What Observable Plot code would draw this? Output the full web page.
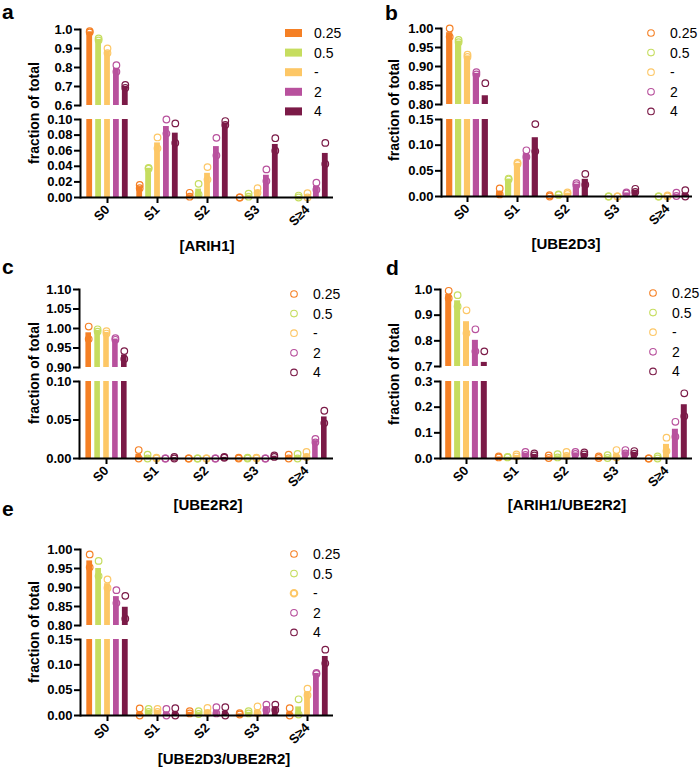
<!DOCTYPE html>
<html>
<head>
<meta charset="utf-8">
<script src="https://cdn.jsdelivr.net/npm/d3@7"></script>
<script src="https://cdn.jsdelivr.net/npm/@observablehq/plot@0.6"></script>
<style>
  html, body { margin: 0; padding: 0; background: #fff; }
  #root { position: relative; width: 700px; height: 770px; overflow: hidden; font-family: "Liberation Sans", Arial, sans-serif; }
  #root svg { position: absolute; }
</style>
</head>
<body>
<div id="root"></div>
<script>
// ---------------- DATA ----------------
const categories = ["S0", "S1", "S2", "S3", "S≥4"];
const conditions = ["0.25", "0.5", "-", "2", "4"];
const colors = ["#F58025", "#C6DD5F", "#FDC766", "#B8519D", "#7B1A47"];

// replicate values: rows = categories, columns = conditions (null = not shown)
const ARIH1_rep1 = [
  [0.991, 0.953, 0.900, 0.812, 0.708],
  [0.016, 0.038, 0.077, 0.100, 0.095],
  [0.006, 0.0175, 0.039, 0.0765, 0.098],
  [0.000, 0.005, 0.012, 0.036, 0.076],
  [null, 0.0025, 0.0055, 0.019, 0.070]
];
const ARIH1_rep2 = [
  [0.985, 0.943, 0.876, 0.778, 0.692],
  [0.012, 0.037, 0.063, 0.082, 0.070],
  [0.001, 0.004, 0.023, 0.054, 0.093],
  [0.000, 0.001, 0.006, 0.021, 0.060],
  [null, 0.000, 0.000, 0.010, 0.043]
];

const UBE2D3_rep1 = [
  [1.000, 0.970, 0.931, 0.885, 0.856],
  [0.0157, 0.033, 0.0635, 0.090, 0.141],
  [0.0026, 0.004, 0.008, 0.022, 0.044],
  [null, 0.000, 0.000, 0.008, 0.015],
  [null, 0.000, 0.002, 0.0075, 0.0125]
];
const UBE2D3_rep2 = [
  [0.978, 0.964, 0.925, 0.879, 0.790],
  [0.004, 0.035, 0.066, 0.077, 0.088],
  [0.000, 0.003, 0.005, 0.026, 0.023],
  [null, 0.000, 0.000, 0.006, 0.009],
  [null, 0.000, 0.000, 0.001, 0.000]
];

const UBE2R2_rep1 = [
  [1.005, 0.998, 0.993, 0.975, 0.942],
  [0.011, 0.005, 0.001, 0.000, 0.002],
  [0.000, 0.000, 0.000, 0.000, 0.002],
  [0.001, 0.001, 0.001, 0.000, 0.004],
  [0.005, 0.006, 0.0085, 0.0255, 0.062]
];
const UBE2R2_rep2 = [
  [0.973, 0.992, 0.987, 0.971, 0.922],
  [0.000, 0.000, 0.000, 0.000, 0.000],
  [0.000, 0.000, 0.000, 0.000, 0.001],
  [0.000, 0.000, 0.000, 0.000, 0.002],
  [0.000, 0.000, 0.002, 0.021, 0.046]
];

const ARIH1_UBE2R2_rep1 = [
  [0.995, 0.978, 0.919, 0.845, 0.759],
  [0.008, 0.006, 0.016, 0.026, 0.020],
  [0.012, 0.017, 0.026, 0.026, 0.024],
  [0.008, 0.013, 0.033, 0.033, 0.029],
  [0.000, 0.008, 0.081, 0.143, 0.254]
];
const ARIH1_UBE2R2_rep2 = [
  [0.966, 0.934, 0.830, 0.759, 0.673],
  [0.004, 0.004, 0.008, 0.014, 0.012],
  [0.002, 0.004, 0.010, 0.018, 0.016],
  [0.002, 0.002, 0.004, 0.020, 0.019],
  [0.000, 0.000, 0.029, 0.085, 0.165]
];

const UBE2D3_UBE2R2_rep1 = [
  [0.987, 0.970, 0.921, 0.893, 0.878],
  [0.014, 0.013, 0.013, 0.013, 0.0145],
  [0.0085, 0.0085, 0.015, 0.0165, 0.0165],
  [0.0045, 0.0085, 0.018, 0.0215, 0.0215],
  [0.0145, 0.032, 0.053, 0.084, 0.130]
];
const UBE2D3_UBE2R2_rep2 = [
  [0.953, 0.930, 0.899, 0.859, 0.818],
  [0.000, 0.007, 0.007, 0.000, 0.000],
  [0.004, 0.003, 0.005, 0.004, 0.000],
  [0.002, 0.004, 0.004, 0.011, 0.011],
  [0.000, 0.002, 0.040, 0.082, 0.103]
];

// axis tick labels
const ticks_a_top = [0.6, 0.7, 0.8, 0.9, 1.0];
const ticks_a_bot = [0.00, 0.02, 0.04, 0.06, 0.08, 0.10];
const ticks_b_top = [0.80, 0.85, 0.90, 0.95, 1.00];
const ticks_b_bot = [0.00, 0.05, 0.10, 0.15];
const ticks_c_top = [0.90, 0.95, 1.00, 1.05, 1.10];
const ticks_c_bot = [0.00, 0.05, 0.10];
const ticks_d_top = [0.7, 0.8, 0.9, 1.0];
const ticks_d_bot = [0.0, 0.1, 0.2, 0.3];
const ticks_e_top = [0.80, 0.85, 0.90, 0.95, 1.00];
const ticks_e_bot = [0.00, 0.05, 0.10, 0.15];

const titles = ["[ARIH1]", "[UBE2D3]", "[UBE2R2]", "[ARIH1/UBE2R2]", "[UBE2D3/UBE2R2]"];
const letters = ["a", "b", "c", "d", "e"];
const yTitle = "fraction of total";

// ---------------- LAYOUT ----------------
const panels = [
  {rep1: ARIH1_rep1, rep2: ARIH1_rep2, top: [0.6, 1.0], bot: [0, 0.10], tt: ticks_a_top, bt: ticks_a_bot, tf: ".1f", bf: ".2f",
   ax: 80, xe: 333, yt: [29, 105], yb: [119, 197], letter: [2, 19], title: [207, 251], ytl: [34, 113], leg: [286, 33], legType: "square"},
  {rep1: UBE2D3_rep1, rep2: UBE2D3_rep2, top: [0.80, 1.00], bot: [0, 0.15], tt: ticks_b_top, bt: ticks_b_bot, tf: ".2f", bf: ".2f",
   ax: 441, xe: 692, yt: [28, 104], yb: [119, 196], letter: [385, 20], title: [566, 249], ytl: [394, 110], leg: [651, 33], legType: "circle"},
  {rep1: UBE2R2_rep1, rep2: UBE2R2_rep2, top: [0.90, 1.10], bot: [0, 0.10], tt: ticks_c_top, bt: ticks_c_bot, tf: ".2f", bf: ".2f",
   ax: 79, xe: 333, yt: [289, 367], yb: [381, 458], letter: [2, 274], title: [208, 510], ytl: [34, 373], leg: [294, 294], legType: "circle"},
  {rep1: ARIH1_UBE2R2_rep1, rep2: ARIH1_UBE2R2_rep2, top: [0.7, 1.0], bot: [0, 0.3], tt: ticks_d_top, bt: ticks_d_bot, tf: ".1f", bf: ".1f",
   ax: 440, xe: 692, yt: [289, 366], yb: [381, 458], letter: [386, 275], title: [567, 510], ytl: [394, 374], leg: [653, 293], legType: "circle"},
  {rep1: UBE2D3_UBE2R2_rep1, rep2: UBE2D3_UBE2R2_rep2, top: [0.80, 1.00], bot: [0, 0.15], tt: ticks_e_top, bt: ticks_e_bot, tf: ".2f", bf: ".2f",
   ax: 80, xe: 333, yt: [549, 625], yb: [639, 715], letter: [2, 516], title: [224, 764], ytl: [34, 632], leg: [294, 554], legType: "circle"}
];

const root = document.getElementById("root");
const FONT = "'Liberation Sans', Arial, sans-serif";
const ML = 48, MR = 4, MT = 10, MB = 46;
const PITCH = 8.9, HALF = 3.2, R = 3.3;

// overlay svg for letters, titles, legends
const over = d3.select(root).append("svg").attr("width", 700).attr("height", 770)
  .style("left", "0px").style("top", "0px").style("font-family", FONT);

function toRows(rep1, rep2) {
  const out = [];
  categories.forEach((cat, ci) => conditions.forEach((cond, k) => {
    [rep1[ci][k], rep2[ci][k]].forEach((v, ri) => {
      if (v != null) out.push({cat, cond, rep: ri + 1, value: v});
    });
  }));
  return out;
}

panels.forEach((p, pi) => {
  const data = toRows(p.rep1, p.rep2);
  const W = p.xe - p.ax;
  const bw = W / categories.length;
  const style = {fontFamily: FONT, fontSize: "13px", fontWeight: "bold", background: "transparent", overflow: "visible", color: "#000"};

  function seriesMarks(dotFilter) {
    const marks = [];
    conditions.forEach((c, i) => {
      const off = (i - 2) * PITCH;
      marks.push(Plot.dot(data.filter(d => d.cond === c && dotFilter(d.value)), {
        x: "cat", y: "value", r: R, stroke: colors[i], strokeWidth: 1.2, fill: "none", dx: off
      }));
    });
    conditions.forEach((c, i) => {
      const off = (i - 2) * PITCH;
      marks.push(Plot.barY(data.filter(d => d.cond === c), Plot.groupX({y: "mean"}, {
        x: "cat", y: "value", fill: colors[i],
        insetLeft: bw / 2 - HALF + off, insetRight: bw / 2 - HALF - off, clip: true
      })));
    });
    return marks;
  }

  const axisOpts = {tickSize: 6, strokeWidth: 2, label: null, fontSize: 13, fontWeight: "bold", fill: "#000", stroke: "#000"};

  // top segment
  const hTop = p.yt[1] - p.yt[0];
  const topPlot = Plot.plot({
    width: ML + W + MR, height: MT + hTop,
    marginLeft: ML, marginRight: MR, marginTop: MT, marginBottom: 0,
    style,
    x: {domain: categories, padding: 0, axis: null},
    y: {domain: p.top},
    marks: [
      ...seriesMarks(v => v >= p.top[0]),
      Plot.axisY(p.tt, {...axisOpts, tickFormat: d3.format(p.tf), tickPadding: 2}),
      Plot.frame({anchor: "left", strokeWidth: 2, stroke: "#000"})
    ]
  });
  topPlot.style.left = (p.ax - ML) + "px";
  topPlot.style.top = (p.yt[0] - MT) + "px";
  root.appendChild(topPlot);

  // bottom segment
  const hBot = p.yb[1] - p.yb[0];
  const botPlot = Plot.plot({
    width: ML + W + MR, height: MT + hBot + MB,
    marginLeft: ML, marginRight: MR, marginTop: MT, marginBottom: MB,
    style,
    x: {domain: categories, padding: 0},
    y: {domain: p.bot},
    marks: [
      ...seriesMarks(v => v <= p.bot[1] + 1e-9),
      Plot.axisY(p.bt, {...axisOpts, tickFormat: d3.format(p.bf), tickPadding: 2}),
      Plot.axisX({...axisOpts, tickRotate: -45, tickPadding: 4}),
      Plot.frame({anchor: "left", strokeWidth: 2, stroke: "#000"}),
      Plot.ruleY([0], {strokeWidth: 2, stroke: "#000"})
    ]
  });
  botPlot.style.left = (p.ax - ML) + "px";
  botPlot.style.top = (p.yb[0] - MT) + "px";
  root.appendChild(botPlot);

  // panel letter
  over.append("text").attr("x", p.letter[0]).attr("y", p.letter[1])
    .attr("font-size", 21).attr("font-weight", "bold").text(letters[pi]);
  // x title
  over.append("text").attr("x", p.title[0]).attr("y", p.title[1]).attr("text-anchor", "middle")
    .attr("font-size", 15).attr("font-weight", "bold").text(titles[pi]);
  // y title
  over.append("text").attr("transform", `translate(${p.ytl[0] + 5},${p.ytl[1]}) rotate(-90)`)
    .attr("text-anchor", "middle").attr("font-size", 14).attr("font-weight", "bold").text(yTitle);
  // legend
  const g = over.append("g");
  conditions.forEach((c, i) => {
    const cy = p.leg[1] + i * 19.6;
    if (p.legType === "square") {
      g.append("rect").attr("x", p.leg[0] - 1).attr("y", cy - 4).attr("width", 17).attr("height", 8).attr("fill", colors[i]);
      g.append("text").attr("x", p.leg[0] + 28).attr("y", cy + 5).attr("font-size", 14).text(c);
    } else {
      g.append("circle").attr("cx", p.leg[0]).attr("cy", cy).attr("r", R)
        .attr("fill", "none").attr("stroke", colors[i]).attr("stroke-width", (pi === 4 && i === 2) ? 2 : 1.1);
      g.append("text").attr("x", p.leg[0] + 19).attr("y", cy + 5).attr("font-size", 14).text(c);
    }
  });
});
</script>
</body>
</html>
